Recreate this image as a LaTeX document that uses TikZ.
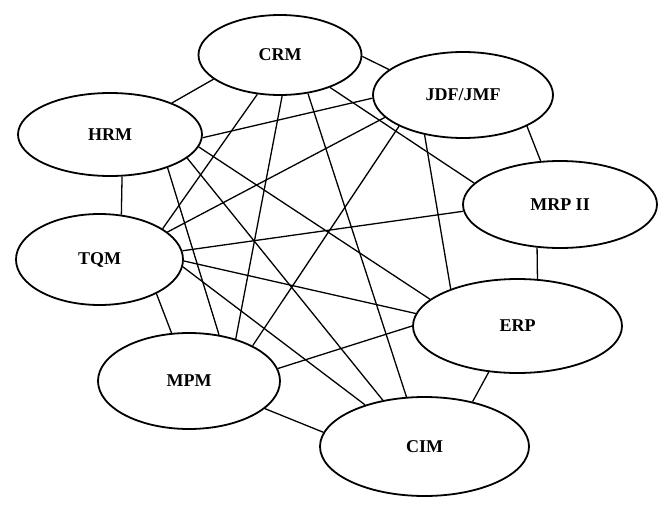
\documentclass[tikz,border=0pt]{standalone}
\usepackage{fontspec}
\setmainfont{Liberation Serif}
\usepackage{tikz}
\usetikzlibrary{positioning}
\usetikzlibrary{shapes}
\tikzset{main node/.style={ellipse,draw,fill=white,line width=1.8pt,inner sep=0pt,font=\bfseries\fontsize{18}{20}\selectfont},}

\begin{document}
\begin{tikzpicture}[x=1pt, y=-1pt, line width=1.3pt]
	\useasboundingbox (0,0) rectangle (671,508);
	\node[main node, minimum width=163pt, minimum height=80pt] (crm) at (280,55) {CRM};
	\node[main node, minimum width=180pt, minimum height=86pt] (jdf) at (463,95) {JDF/JMF};
	\node[main node, minimum width=184pt, minimum height=83pt] (hrm) at (110,134.5) {HRM};
	\node[main node, minimum width=194pt, minimum height=87pt] (mrp) at (560,204.5) {MRP II};
	\node[main node, minimum width=167pt, minimum height=91pt] (tqm) at (99.5,259.5) {TQM};
	\node[main node, minimum width=209pt, minimum height=94pt] (erp) at (517.5,326) {ERP};
	\node[main node, minimum width=182pt, minimum height=96pt] (mpm) at (189,381) {MPM};
	\node[main node, minimum width=209pt, minimum height=99pt] (cim) at (424.5,446.5) {CIM};

	\path[draw]
	(crm.200) edge (hrm.27)
	(crm.240) edge (tqm.26)
	(crm.273) edge (mpm.42)
	(crm.306) edge (cim.110)
	(crm.-1) edge (jdf.161)
	(crm.327) edge (mrp.166)
	(hrm.286) edge (tqm.64)
	(hrm.358) edge (jdf.182)
	(hrm.352) edge (erp.163)
	(hrm.343) edge (cim.132)
	(hrm.330) edge (mpm.57)
	(tqm.22) edge (jdf.196)
	(tqm.6) edge (mrp.184)
	(tqm.359) edge (erp.173)
	(tqm.355) edge (cim.145)
	(tqm.329) edge (mpm.110)
	(mpm.29) edge (jdf.206)
	(mpm.8) edge (erp.180)
	(mpm.340) edge (cim.172)
	(jdf.226) edge (erp.151)
	(jdf.334) edge (mrp.114)
	(mrp.242) edge (erp.67)
	(erp.238) edge (cim.43);
\end{tikzpicture}
\end{document}
